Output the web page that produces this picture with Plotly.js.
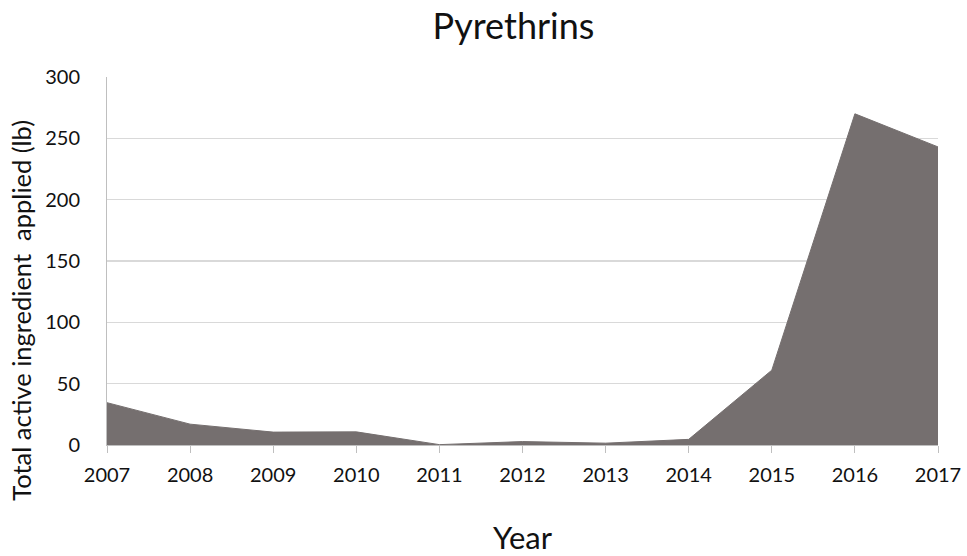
<!DOCTYPE html>
<html>
<head>
<meta charset="utf-8">
<script src="https://cdn.plot.ly/plotly-3.0.1.min.js"></script>
<style>html,body{margin:0;padding:0;background:#fff;}#chart{width:967px;height:556px;}</style>
</head>
<body>
<div id="chart"></div>
<script>
var years = [2007, 2008, 2009, 2010, 2011, 2012, 2013, 2014, 2015, 2016, 2017];
var pounds = [34.5, 17, 10.5, 10.7, 0.3, 2.8, 1.5, 4.6, 61, 270, 243];
var yTicks = [0, 50, 100, 150, 200, 250, 300];
var titleText = 'Pyrethrins';
var xTitle = 'Year';
var yTitle = 'Total active ingredient  applied (lb)';

var trace = {
  x: years, y: pounds, type: 'scatter', mode: 'lines',
  fill: 'tozeroy', fillcolor: '#756f6f',
  line: {color: '#756f6f', width: 1},
  hoverinfo: 'x+y'
};
var layout = {
  width: 967, height: 556,
  margin: {l: 107, r: 29, t: 77, b: 111},
  paper_bgcolor: '#fff', plot_bgcolor: '#fff',
  font: {family: 'Lato, sans-serif', color: '#111'},
  title: {text: titleText, font: {size: 36, color: '#111'}, x: 0.531, xanchor: 'center', y: 0.953, yanchor: 'middle'},
  xaxis: {
    range: [2007, 2017], tickvals: years, ticktext: years.map(String),
    showgrid: false, zeroline: false, showline: true, linecolor: '#bfbfbf', linewidth: 1,
    ticks: 'outside', ticklen: 7, tickcolor: '#bfbfbf', ticklabelstandoff: 5,
    tickfont: {size: 20, color: '#111'},
    title: {text: xTitle, font: {size: 31, color: '#111'}, standoff: 42}
  },
  yaxis: {
    range: [0, 300], tickvals: yTicks, ticktext: yTicks.map(String),
    showgrid: true, gridcolor: '#d9d9d9', gridwidth: 1.5,
    zeroline: false, showline: true, linecolor: '#bfbfbf', linewidth: 1,
    ticks: 'outside', ticklen: 22, tickcolor: 'rgba(0,0,0,0)',
    tickfont: {size: 20, color: '#111'}
  },
  annotations: [{
    text: yTitle, xref: 'paper', yref: 'paper', x: -0.103, y: 0.366,
    xanchor: 'center', yanchor: 'middle', textangle: -90, showarrow: false,
    font: {size: 25.5, color: '#111'}
  }],
  showlegend: false
};
Plotly.newPlot('chart', [trace], layout, {displayModeBar: false, staticPlot: true});
</script>
</body>
</html>
